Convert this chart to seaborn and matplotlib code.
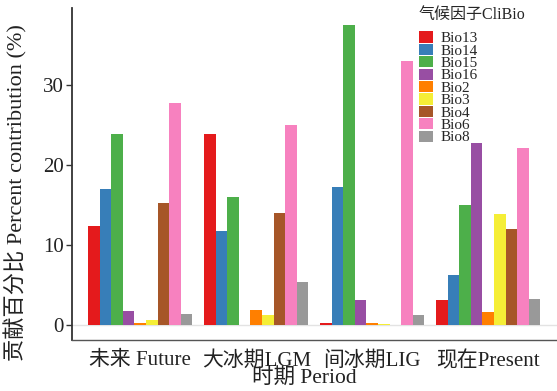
import matplotlib
matplotlib.use("Agg")
import matplotlib.pyplot as plt
import seaborn as sns
import pandas as pd

periods = ["未来 Future", "大冰期LGM", "间冰期LIG", "现在Present"]
factors = ["Bio13", "Bio14", "Bio15", "Bio16", "Bio2", "Bio3", "Bio4", "Bio6", "Bio8"]

future = [12.4, 17.0, 23.8, 1.8, 0.2, 0.6, 15.2, 27.7, 1.4]
lgm = [23.9, 11.7, 16.0, 0.0, 1.9, 1.2, 14.0, 25.0, 5.4]
lig = [0.3, 17.2, 37.4, 3.1, 0.2, 0.1, 0.0, 33.0, 1.2]
present = [3.1, 6.2, 15.0, 22.7, 1.6, 13.8, 12.0, 22.1, 3.3]

colors = ["#E41A1C", "#377EB8", "#4DAF4A", "#984EA3", "#FF7F00",
          "#F5EE36", "#A65628", "#F781BF", "#999999"]

rows = []
for period, vals in zip(periods, [future, lgm, lig, present]):
    for f, v in zip(factors, vals):
        rows.append({"period": period, "factor": f, "value": v})
df = pd.DataFrame(rows)

sns.set_theme(style="white")
plt.rcParams["font.family"] = ["Liberation Serif", "Noto Sans CJK SC"]

fig = plt.figure(figsize=(5.57, 3.91), dpi=100)
ax = fig.add_axes([0.129, 0.13, 0.871, 0.85])

ax.axhline(0, color="#e3e3e3", lw=1.0, zorder=0)
sns.barplot(data=df, x="period", y="value", hue="factor", order=periods,
            hue_order=factors, palette=colors, width=0.9, ax=ax,
            edgecolor="none", linewidth=0, errorbar=None, saturation=1)

ax.set_xlim(-0.59, 3.594)
ax.set_ylim(-1.9, 39.6)
ax.set_yticks([0, 10, 20, 30])
ax.tick_params(axis="y", which="both", left=True, length=4, width=1,
               color="#333333", labelsize=15, pad=2, labelcolor="#222222")
ax.tick_params(axis="x", bottom=False, labelsize=15, pad=2, labelcolor="#222222")
for s in ["top", "right"]:
    ax.spines[s].set_visible(False)
ax.spines["left"].set_color("#333333")
ax.spines["left"].set_linewidth(1.3)
ax.spines["bottom"].set_color("#555555")
ax.spines["bottom"].set_linewidth(1.0)

ax.set_ylabel("贡献百分比 Percent contribution (%)", fontsize=16, color="#222222")
ax.yaxis.set_label_coords(-0.092, 0.445)
ax.set_xlabel("时期 Period", fontsize=15.5, color="#222222")
ax.xaxis.set_label_coords(0.48, -0.085)

leg = ax.legend(title="气候因子CliBio", loc="upper left",
                bbox_to_anchor=(0.752, 0.982), bbox_transform=fig.transFigure,
                frameon=False, fontsize=11, title_fontsize=11.5,
                handlelength=0.9, handleheight=0.75, labelspacing=-0.1,
                handletextpad=0.5, borderpad=0, borderaxespad=0)
leg._legend_box.align = "left"
leg._legend_box.sep = 6

fig.savefig("out.png", dpi=100)
